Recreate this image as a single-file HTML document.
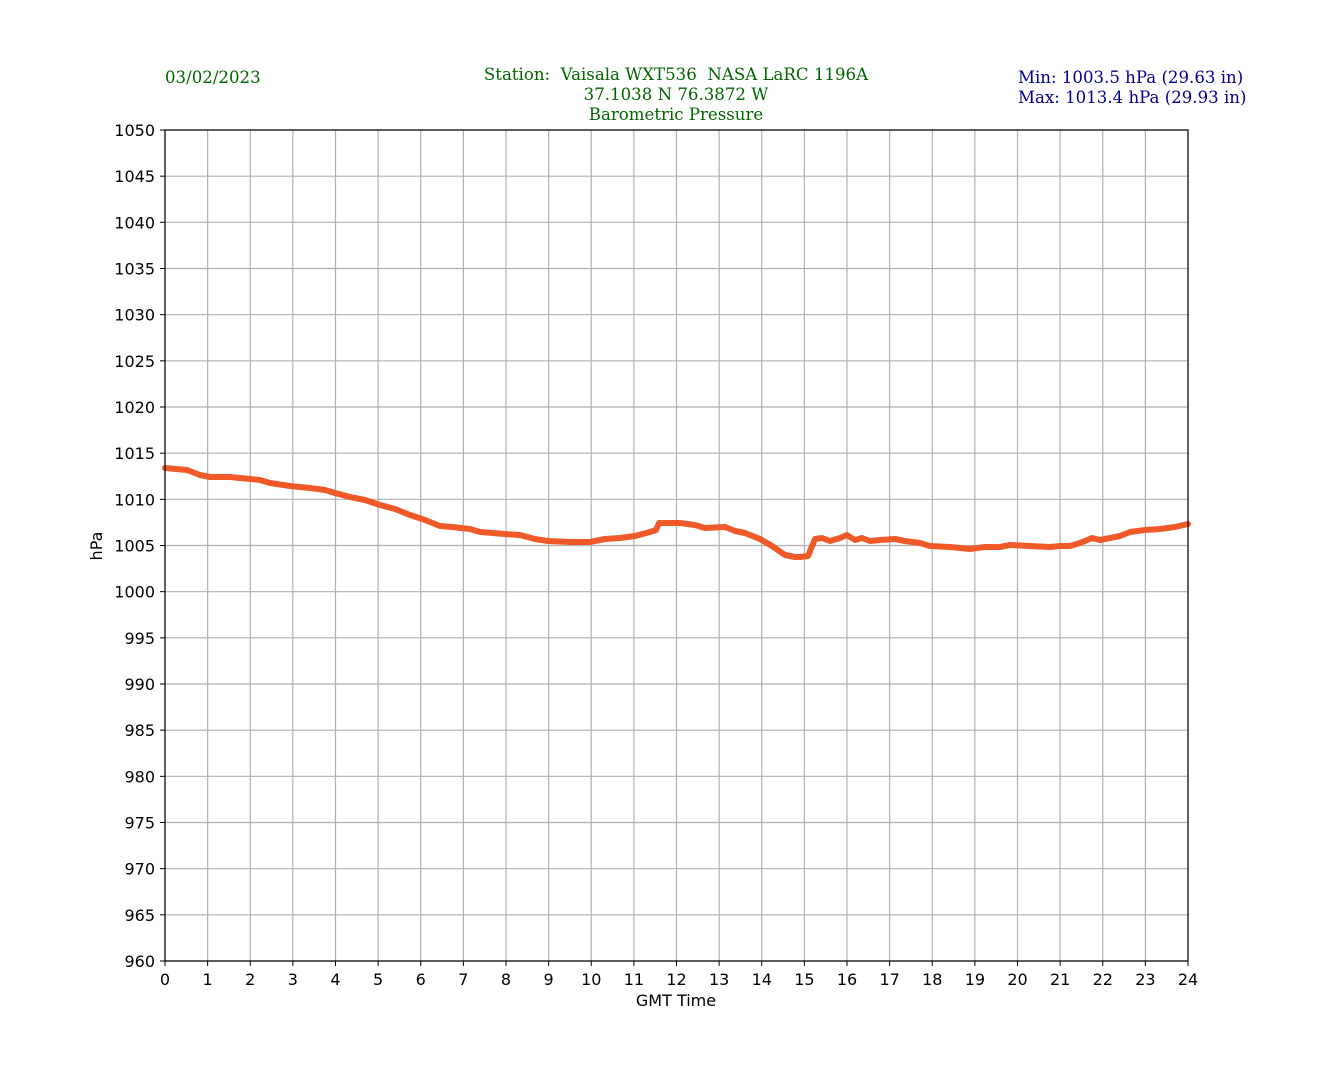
<!DOCTYPE html>
<html><head><meta charset="utf-8"><style>body{margin:0;background:#fff}</style></head>
<body>
<svg width="1320" height="1080" xmlns="http://www.w3.org/2000/svg" font-family="'DejaVu Sans', sans-serif">
<rect width="1320" height="1080" fill="#fff"/>
<g font-family="'DejaVu Serif', 'Liberation Serif', serif" font-size="16.6">
<text x="165" y="83" fill="#006400">03/02/2023</text>
<text x="676" y="80" fill="#006400" text-anchor="middle">Station:&#160; Vaisala WXT536&#160; NASA LaRC 1196A</text>
<text x="676" y="100" fill="#006400" text-anchor="middle">37.1038 N 76.3872 W</text>
<text x="676" y="120" fill="#006400" text-anchor="middle">Barometric Pressure</text>
<text x="1018" y="83" fill="#00008b">Min: 1003.5 hPa (29.63 in)</text>
<text x="1018" y="103" fill="#00008b">Max: 1013.4 hPa (29.93 in)</text>
</g>
<g id="grid" stroke="#b0b0b0" stroke-width="1.2"></g>
<g id="ticks" stroke="#000" stroke-width="1"></g>
<g id="lbl" font-size="16" fill="#000"></g>
<polyline fill="none" stroke="#f05a28" stroke-width="6" stroke-linejoin="round" stroke-linecap="round" points="165,468 187,470 200,475 210,477 230,477 250,479 260,480 270,483 290,486 310,488 325,490 335,493 350,497 365,500 380,505 395,509 410,515 425,520 440,526 452,527 470,529 480,532 505,534 520,535 535,539 548,541 570,542 590,542 605,539 620,538 635,536 650,532 656,530 659,523 680,523 695,525 705,528 725,527 735,531 745,533 760,539 772,546 785,555 795,557 800,557 808,556 815,539 822,538 830,541 840,538 847,535 855,540 862,538 870,541 880,540 895,539 905,541 920,543 930,546 950,547 970,549 985,547 1000,547 1010,545 1030,546 1050,547 1060,546 1070,546 1080,543 1092,538 1100,540 1110,538 1120,536 1130,532 1145,530 1160,529 1175,527 1188,524"/>
<rect x="165" y="130" width="1023" height="831" fill="none" stroke="#000" stroke-width="1.2"/>
<text x="676" y="1006" font-size="16" text-anchor="middle">GMT Time</text>
<text transform="translate(102,546) rotate(-90)" font-size="16" text-anchor="middle">hPa</text>
</svg>
<script>
const ns="http://www.w3.org/2000/svg";
const g=document.getElementById('grid'),t=document.getElementById('ticks'),l=document.getElementById('lbl');
function el(p,n,a,txt){const e=document.createElementNS(ns,n);for(const k in a)e.setAttribute(k,a[k]);if(txt!==undefined)e.textContent=txt;p.appendChild(e);}
for(let i=0;i<=24;i++){const x=165+i*1023/24;
el(g,'line',{x1:x,x2:x,y1:130,y2:961});
el(t,'line',{x1:x,x2:x,y1:961,y2:966});
el(l,'text',{x:x,y:985,'text-anchor':'middle'},String(i));}
for(let v=960;v<=1050;v+=5){const y=961-(v-960)*831/90;
el(g,'line',{x1:165,x2:1188,y1:y,y2:y});
el(t,'line',{x1:160,x2:165,y1:y,y2:y});
el(l,'text',{x:155,y:y+6,'text-anchor':'end'},String(v));}
</script>
</body></html>
